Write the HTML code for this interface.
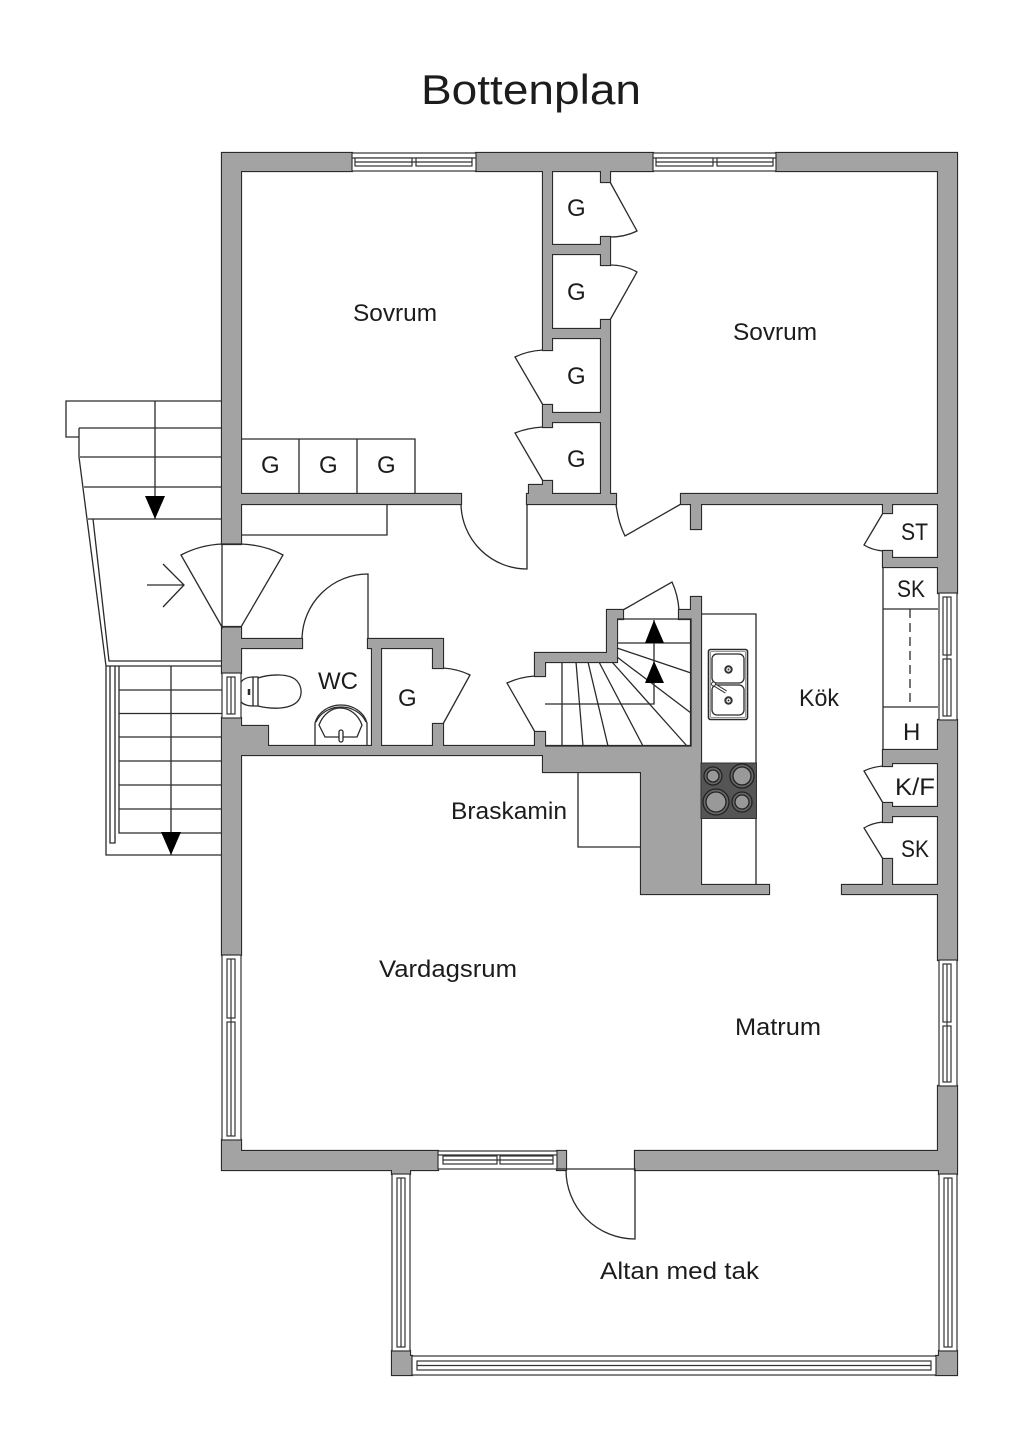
<!DOCTYPE html>
<html><head><meta charset="utf-8"><title>Bottenplan</title>
<style>
html,body{margin:0;padding:0;background:#fff;width:1024px;height:1448px;overflow:hidden}
svg{display:block}
text{font-family:"Liberation Sans",sans-serif;font-size:24px;fill:#1c1c1c}
.l{fill:none;stroke:#2a2a2a;stroke-width:1.3}
.h{fill:#fff;stroke:#2a2a2a;stroke-width:1.3}
.w{fill:#fff;stroke:#333;stroke-width:1.2}
</style></head><body>
<svg width="1024" height="1448" viewBox="0 0 1024 1448" xmlns="http://www.w3.org/2000/svg">
<rect width="1024" height="1448" fill="#fff"/>

<!-- exterior stairs -->
<g class="l">
<path d="M222 401H66V437H79M79 428H222M79 428V457L106 666V855H222"/>
<path d="M80 457H222M84 487H222M88 519H222M93 519L109 661H222M106 666H222M155 401V519"/>
<path d="M147 585H184M163 564L184 585L163 607"/>
<path d="M110 666V843H115V666M119 666V833H222M119 690H222M119 713.5H222M119 737H222M119 761H222M119 785H222M119 809H222M171 666V855"/>
</g>
<path d="M145 496H165L155 519Z M161 832H181L171 855Z" fill="#000"/>

<!-- built-ins under walls -->
<g class="l">
<path d="M241 439H415V494M299 439V494M357 439V494M241 504V535H387V504"/>
<path d="M883 567H938M883 567V754M883 609H938M883 707H938"/>
<path d="M910 609V707" stroke-dasharray="9 5"/>
<path d="M701 614H756V884M578 772V847H641"/>
</g>

<!-- walls -->
<defs>
<path id="walls" d="
M222 153H352V171H222Z M476 153H653V171H476Z M776 153H957V171H776Z
M222 153H241V544H222Z M222 627H241V673H222Z M222 718H241V955H222Z M222 1140H241V1170H222Z
M938 153H957V593H938Z M938 720H957V960H938Z M938 1086H957V1170H938Z
M222 1151H438V1170H222Z M557 1151H566V1170H557Z M635 1151H957V1170H635Z
M392 1160H410V1174H392Z M392 1351H410V1356H412V1375H392Z
M939 1160H957V1174H939Z M939 1351H957V1375H936V1356H939Z
M230 627H241V639H230Z
M230 639H302V648H230Z M368 639H443V648H368Z
M230 726H268V746H230Z M230 746H701V755H230Z
M372 640H381V750H372Z
M433 640H443V668H433Z M433 724H443V750H433Z
M543 165H552V350H543Z M601 165H610V182H601Z M601 237H610V265H601Z M601 320H610V500H601Z
M545 245H605V254H545Z M545 329H605V338H545Z M543 405H552V427H543Z M545 413H605V422H545Z
M543 481H552V498H543Z M529 485H546V498H529Z
M230 494H461V504H230Z M527 494H616V504H527Z M681 494H945V504H681Z M691 500H701V529H691Z
M883 500H892V513H883Z M883 551H892V567H883Z M885 558H945V567H885Z
M883 750H945V763H883Z M883 758H892V766H883Z M883 803H892V822H883Z M885 807H945V816H885Z M883 859H892V890H883Z M842 885H945V894H842Z
M607 653V610H623V619H617V662H545V676H535V653Z
M679 610H695V619H679Z M691 597H701V890H691Z
M535 732H545V750H535Z
M543 750H700V772H543Z M641 765H701V894H641Z M695 885H769V894H695Z"/>
</defs>
<use href="#walls" fill="none" stroke="#2a2a2a" stroke-width="2.2"/>
<use href="#walls" fill="#a3a3a3"/>

<!-- stair arrows & indoor stairs -->
<g class="l">
<path d="M545 746H691V619H617M617 643H691M654 620V704H545"/>
<path d="M617 648L691 673M617 657L691 713M612 662L687 746M599 662L643 746M588 662L608 746M576 662L583 746M562 662V746"/>
</g>
<path d="M654 620L664 643H645Z M654 661L664 683H645Z" fill="#000"/>

<!-- doors -->
<g class="l">
<path d="M222 544V627L181 555Q200 545 222 544H241Q265 545 283 555L241 627H222"/>
<path d="M368 639V574A66 66 0 0 0 302 639"/>
<path d="M527 504V569A66 66 0 0 1 461 504"/>
<path d="M616 504Q618 522 625 536L681 504"/>
<path d="M610 182L637 231Q625 237 610 237"/>
<path d="M610 265Q625 265 637 272L610 320"/>
<path d="M543 350Q527 351 515 357L543 405"/>
<path d="M543 427Q527 428 515 433L543 481"/>
<path d="M443 668Q458 669 470 675L443 724"/>
<path d="M535 676Q520 677 507 683L535 732"/>
<path d="M623 610L672 582Q678 595 679 610"/>
<path d="M883 513L864 545Q872 550 883 551"/>
<path d="M883 766Q872 767 864 771L883 803"/>
<path d="M883 822Q872 823 864 828L883 859"/>
<path d="M557 1169H635V1239A69 69 0 0 1 566 1170"/>
</g>

<!-- windows -->
<g class="w">
<rect x="352" y="153" width="124" height="18"/><path d="M352 158H476"/><rect x="355" y="158" width="57" height="8"/><rect x="416" y="158" width="56" height="8"/><path d="M355 162H472"/>
<rect x="653" y="153" width="123" height="18"/><path d="M653 158H776"/><rect x="656" y="158" width="57" height="8"/><rect x="717" y="158" width="56" height="8"/><path d="M656 162H773"/>
<rect x="438" y="1151" width="119" height="18"/><path d="M438 1155H557"/><rect x="443" y="1156" width="54" height="8"/><rect x="500" y="1156" width="53" height="8"/><path d="M443 1160H553"/>
<rect x="222" y="673" width="19" height="45"/><rect x="227" y="677" width="8" height="37"/><path d="M231 677V714"/>
<rect x="222" y="955" width="19" height="185"/><rect x="227" y="959" width="8" height="59"/><rect x="227" y="1022" width="8" height="114"/><path d="M231 959V1136"/>
<rect x="939" y="593" width="18" height="127"/><rect x="943" y="597" width="8" height="58"/><rect x="943" y="659" width="8" height="57"/><path d="M947 597V716"/>
<rect x="939" y="960" width="18" height="126"/><rect x="943" y="964" width="8" height="58"/><rect x="943" y="1026" width="8" height="56"/><path d="M947 964V1082"/>
<rect x="392" y="1174" width="18" height="177"/><rect x="397" y="1178" width="8" height="169"/><path d="M401 1178V1347"/>
<rect x="939" y="1174" width="18" height="177"/><rect x="944" y="1178" width="8" height="169"/><path d="M948 1178V1347"/>
<rect x="412" y="1356" width="524" height="19"/><rect x="417" y="1361" width="514" height="9"/><path d="M417 1365.5H931"/>
</g>

<!-- toilet -->
<g class="l">
<path d="M258 678C270 674 290 673 297 681C303 688 302 697 297 702C288 710 270 709 258 706"/>
<path d="M241 682C244 678 249 677 253 677H258V706H253C249 706 244 705 241 702M253 677V706"/>
<path d="M249 689V695" style="stroke-width:2.5"/>
</g>
<!-- wc sink -->
<g class="l">
<path d="M315 746V723C318 712 329 705 341 705C353 705 364 712 367 723V746"/>
<path d="M316 722C320 713 330 707 341 707C352 707 362 713 366 722"/>
<path d="M319 725C323 714 332 708 340 708C349 708 358 714 362 725L357 737H325Z"/>
</g>
<rect x="339" y="730" width="4" height="12" rx="2" class="h"/>

<!-- kitchen sink -->
<rect x="708.500" y="649.500" width="39" height="70" rx="2" class="h" style="stroke-width:1.6"/>
<rect x="710.500" y="651.500" width="35" height="66" rx="1" fill="none" stroke="#999"/>
<rect x="712" y="654" width="32" height="29" rx="5" class="l"/>
<rect x="712" y="685" width="32" height="30" rx="5" class="l"/>
<circle cx="728.500" cy="669.500" r="3.200" fill="#fff" stroke="#333" stroke-width="2"/><circle cx="728.500" cy="669.500" r="1" fill="#333"/>
<circle cx="728.500" cy="700.500" r="3.200" fill="#fff" stroke="#333" stroke-width="2"/><circle cx="728.500" cy="700.500" r="1" fill="#333"/>
<path d="M713 684L726 692" stroke="#333" stroke-width="3.500" fill="none"/>
<path d="M713 684L726 692" stroke="#fff" stroke-width="1.500" fill="none"/>
<circle cx="713.500" cy="684" r="2" fill="#fff" stroke="#333"/>

<!-- stove -->
<rect x="701" y="763" width="55.500" height="55.500" fill="#555" stroke="#333"/>
<g stroke="#222" stroke-width="1.3">
<circle cx="713" cy="776" r="9" fill="#666"/><circle cx="713" cy="776" r="6" fill="#999"/>
<circle cx="742" cy="776" r="12" fill="#666"/><circle cx="742" cy="776" r="9" fill="#999"/>
<circle cx="716" cy="802" r="13" fill="#666"/><circle cx="716" cy="802" r="10" fill="#999"/>
<circle cx="742" cy="802" r="10" fill="#666"/><circle cx="742" cy="802" r="7" fill="#999"/>
</g>

<!-- labels -->
<text x="421" y="104" textLength="220" lengthAdjust="spacingAndGlyphs" style="font-size:42px">Bottenplan</text>
<text x="353" y="321" textLength="84" lengthAdjust="spacingAndGlyphs">Sovrum</text>
<text x="733" y="340" textLength="84" lengthAdjust="spacingAndGlyphs">Sovrum</text>
<text x="567" y="216">G</text><text x="567" y="300">G</text><text x="567" y="384">G</text><text x="567" y="467">G</text>
<text x="261" y="473">G</text><text x="319" y="473">G</text><text x="377" y="473">G</text>
<text x="901" y="540" textLength="27" lengthAdjust="spacingAndGlyphs">ST</text>
<text x="897" y="597" textLength="28" lengthAdjust="spacingAndGlyphs">SK</text>
<text x="903" y="740">H</text>
<text x="895" y="795" textLength="40" lengthAdjust="spacingAndGlyphs">K/F</text>
<text x="901" y="857" textLength="28" lengthAdjust="spacingAndGlyphs">SK</text>
<text x="318" y="689" textLength="40" lengthAdjust="spacingAndGlyphs">WC</text>
<text x="398" y="706">G</text>
<text x="799" y="706" textLength="40" lengthAdjust="spacingAndGlyphs">Kök</text>
<text x="451" y="819" textLength="116" lengthAdjust="spacingAndGlyphs">Braskamin</text>
<text x="379" y="977" textLength="138" lengthAdjust="spacingAndGlyphs">Vardagsrum</text>
<text x="735" y="1035" textLength="86" lengthAdjust="spacingAndGlyphs">Matrum</text>
<text x="600" y="1279" textLength="159" lengthAdjust="spacingAndGlyphs">Altan med tak</text>
</svg>
</body></html>
